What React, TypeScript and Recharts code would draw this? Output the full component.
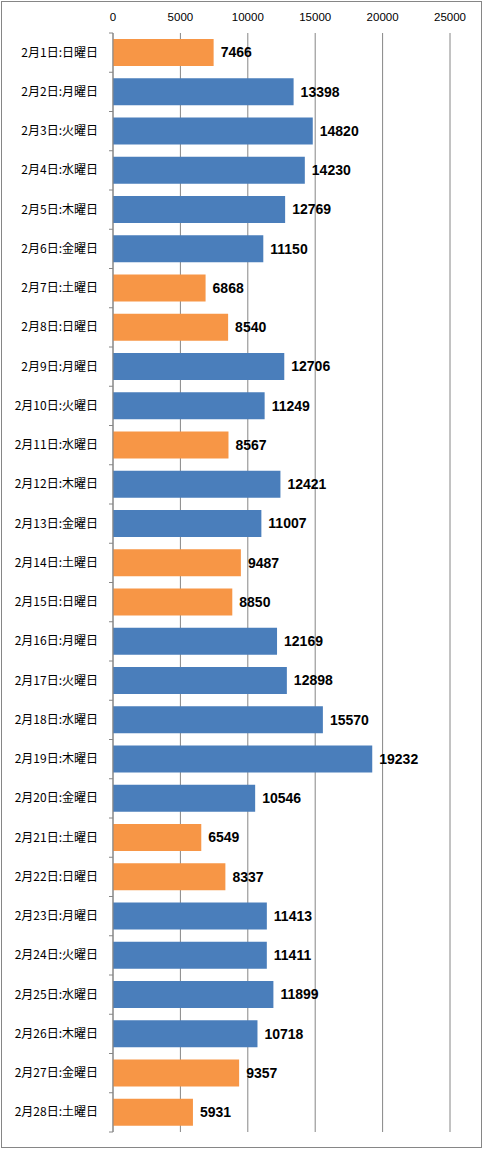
import React from 'react';
import { BarChart, Bar, XAxis, YAxis, CartesianGrid, LabelList, Cell } from 'recharts';

const days = [
  '2月1日:日曜日', '2月2日:月曜日', '2月3日:火曜日', '2月4日:水曜日', '2月5日:木曜日', '2月6日:金曜日', '2月7日:土曜日',
  '2月8日:日曜日', '2月9日:月曜日', '2月10日:火曜日', '2月11日:水曜日', '2月12日:木曜日', '2月13日:金曜日', '2月14日:土曜日',
  '2月15日:日曜日', '2月16日:月曜日', '2月17日:火曜日', '2月18日:水曜日', '2月19日:木曜日', '2月20日:金曜日', '2月21日:土曜日',
  '2月22日:日曜日', '2月23日:月曜日', '2月24日:火曜日', '2月25日:水曜日', '2月26日:木曜日', '2月27日:金曜日', '2月28日:土曜日',
];

const counts = [
  7466, 13398, 14820, 14230, 12769, 11150, 6868,
  8540, 12706, 11249, 8567, 12421, 11007, 9487,
  8850, 12169, 12898, 15570, 19232, 10546, 6549,
  8337, 11413, 11411, 11899, 10718, 9357, 5931,
];

// weekends and holidays drawn in orange
const holidays = [
  '2月1日:日曜日', '2月7日:土曜日', '2月8日:日曜日', '2月11日:水曜日', '2月14日:土曜日',
  '2月15日:日曜日', '2月21日:土曜日', '2月22日:日曜日', '2月27日:金曜日', '2月28日:土曜日',
];

const xTicks = [0, 5000, 10000, 15000, 20000, 25000];

const data = days.map((d, i) => ({ day: d, count: counts[i], off: holidays.includes(d) }));

const W = 483;
const H = 1149;
const TOP = 33;
const BOTTOM = 17;
const rowH = (H - TOP - BOTTOM) / days.length;

const DayTick = (props: any) => {
  const { x, y, payload, index } = props;
  return (
    <g>
      <line x1={x + 4} x2={x + 8} y1={y + rowH / 2} y2={y + rowH / 2} stroke="#868686" />
      {index === 0 && <line x1={x + 4} x2={x + 8} y1={y - rowH / 2} y2={y - rowH / 2} stroke="#868686" />}
      <text x={x - 7} y={y} dy={4} textAnchor="end" fontSize={12} fill="#000" fontFamily="'Noto Sans CJK JP', sans-serif">
        {payload.value}
      </text>
    </g>
  );
};

export default function App() {
  return (
    <div style={{ position: 'relative', width: W, height: H }}>
      <style>{'body{margin:0}'}</style>
      <div style={{ position: 'absolute', left: 1, top: 1, width: 479, height: 1145, border: '1px solid #868686' }} />
      <BarChart
        width={W}
        height={H}
        data={data}
        layout="vertical"
        margin={{ top: 0, right: 33, left: 0, bottom: BOTTOM }}
        barSize={27}
      >
        <CartesianGrid horizontal={false} stroke="#868686" />
        <XAxis
          type="number"
          orientation="top"
          domain={[0, 25000]}
          ticks={xTicks}
          height={TOP}
          axisLine={false}
          tickLine={false}
          tickMargin={6}
          tick={{ fontSize: 11.5, fill: '#000', fontFamily: "'Liberation Sans', Arial, sans-serif" }}
        />
        <YAxis
          type="category"
          dataKey="day"
          width={113}
          interval={0}
          axisLine={{ stroke: '#868686' }}
          tickLine={false}
          tick={<DayTick />}
        />
        <Bar dataKey="count" isAnimationActive={false}>
          {data.map((d) => (
            <Cell key={d.day} fill={d.off ? '#F79646' : '#4A7EBB'} />
          ))}
          <LabelList
            dataKey="count"
            position="right"
            offset={7}
            style={{ fontSize: 14, fontWeight: 'bold', fill: '#000', fontFamily: "'Liberation Sans', Arial, sans-serif" }}
          />
        </Bar>
      </BarChart>
    </div>
  );
}
